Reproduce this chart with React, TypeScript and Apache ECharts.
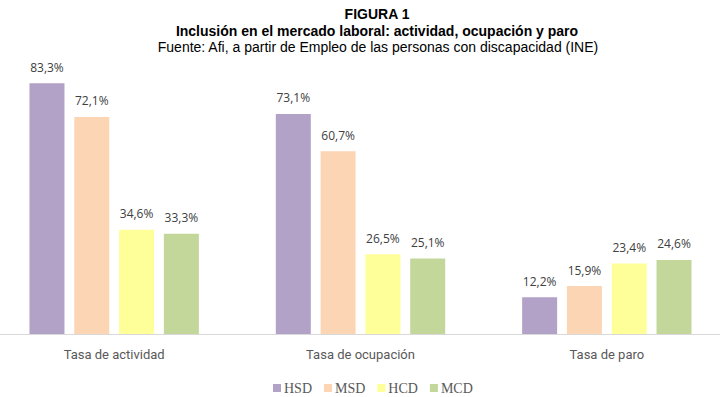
import React, { useEffect, useRef } from "react";
import * as echarts from "echarts";

const categories = ["Tasa de actividad", "Tasa de ocupación", "Tasa de paro"];
const seriesNames = ["HSD", "MSD", "HCD", "MCD"];
const hsd = [83.3, 73.1, 12.2];
const msd = [72.1, 60.7, 15.9];
const hcd = [34.6, 26.5, 23.4];
const mcd = [33.3, 25.1, 24.6];
const colors = ["#B3A2C7", "#FCD5B5", "#FFFF99", "#C4D79B"];

export default function App() {
  const ref = useRef<HTMLDivElement>(null);
  useEffect(() => {
    if (!ref.current) return;
    const chart = echarts.init(ref.current, null, { renderer: "svg" });
    const data = [hsd, msd, hcd, mcd];
    const cx = 377 + 9;
    chart.setOption({
      animation: false,
      graphic: [
        { type: "text", x: cx, y: 7, style: { text: "FIGURA 1", font: "bold 14px 'Liberation Sans', Arial", fill: "#000", textAlign: "center" } },
        { type: "text", x: cx, y: 24, style: { text: "Inclusión en el mercado laboral: actividad, ocupación y paro", font: "bold 14px 'Liberation Sans', Arial", fill: "#000", textAlign: "center" } },
        { type: "text", x: cx + 1, y: 40, style: { text: "Fuente: Afi, a partir de Empleo de las personas con discapacidad (INE)", font: "14px 'Liberation Sans', Arial", fill: "#000", textAlign: "center" } },
      ],
      legend: {
        data: seriesNames,
        left: 9 + 268,
        top: 376,
        itemWidth: 8,
        itemHeight: 8,
        itemGap: 12,
        icon: "rect",
        textStyle: { fontFamily: "'Liberation Serif', 'DejaVu Serif', serif", fontSize: 14, color: "#595959", padding: [0, 0, 0, -2] },
      },
      grid: { left: 0, right: 0, top: 63, bottom: 63 },
      xAxis: {
        type: "category",
        data: categories,
        axisTick: { show: false },
        axisLine: { lineStyle: { color: "#D9D9D9", width: 1 } },
        axisLabel: { color: "#595959", fontSize: 13, fontFamily: "'Liberation Sans Narrow', 'Roboto', sans-serif", margin: 14 },
      },
      yAxis: { type: "value", min: 0, max: 90, show: false, splitLine: { show: false } },
      series: seriesNames.map((n, i) => ({
        name: n,
        type: "bar",
        data: data[i],
        barWidth: 35,
        barGap: "28%",
        itemStyle: { color: colors[i] },
        label: {
          show: true,
          position: "top",
          distance: 10,
          color: "#404040",
          fontSize: 12,
          fontFamily: "'Open Sans', sans-serif",
          formatter: (p: any) => p.value.toFixed(1).replace(".", ",") + "%",
        },
      })),
    });
    return () => chart.dispose();
  }, []);
  return (
    <div style={{ position: "fixed", left: 0, top: 0, width: 720, height: 397, overflow: "hidden", background: "#fff" }}>
      <div ref={ref} style={{ position: "absolute", left: -9, top: 0, width: 739, height: 397 }} />
    </div>
  );
}
